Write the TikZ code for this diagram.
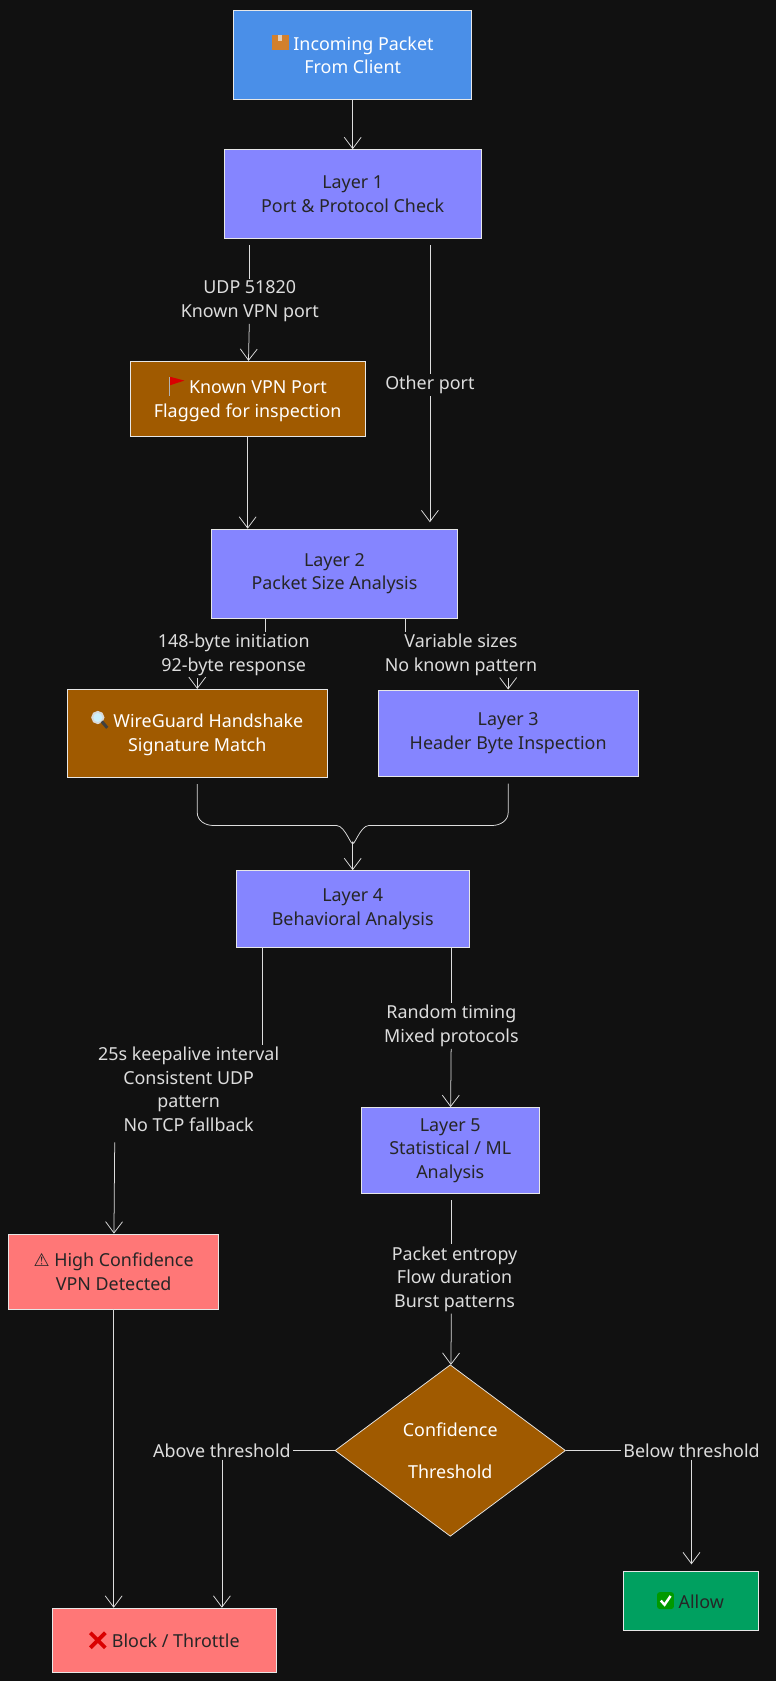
\documentclass[tikz,border=0pt]{standalone}
\usepackage{fontspec}
\setmainfont{Noto Sans}
\newfontfamily\symb{DejaVu Sans}
\usetikzlibrary{shapes.geometric, arrows.meta, positioning, calc}
\definecolor{bg}{HTML}{111111}
\definecolor{edge}{HTML}{DDDDDD}
\definecolor{inblue}{HTML}{4A8FE8}
\definecolor{layer}{HTML}{8585FF}
\definecolor{flagc}{HTML}{A05A00}
\definecolor{alert}{HTML}{FF7777}
\definecolor{okc}{HTML}{00A060}
% small icons for the emoji that no font here has
\newcommand{\pkgicon}{\tikz[x=1pt,y=1pt,baseline=0pt]{\fill[brown!70!orange] (0,0) rectangle (9,8); \fill[brown!40!white] (3.5,5) rectangle (5.5,8);}}
\newcommand{\flagicon}{\tikz[x=1pt,y=1pt,baseline=0pt]{\draw[gray!60, line width=0.8pt] (1,-1) -- (1,9); \fill[red!85!black] (1.4,9) -- (9,7) -- (1.4,4.5) -- cycle;}}
\newcommand{\lensicon}{\tikz[x=1pt,y=1pt,baseline=0pt]{\draw[gray!30, line width=1pt, fill=cyan!20] (3.5,5.5) circle (3); \draw[gray!50!black, line width=1.6pt] (5.6,3.4) -- (8.5,0);}}
\newcommand{\crossicon}{\tikz[x=1pt,y=1pt,baseline=0pt]{\draw[red!85!black, line width=2pt] (0.5,0) -- (8.5,8) (0.5,8) -- (8.5,0);}}
\newcommand{\checkicon}{\tikz[x=1pt,y=1pt,baseline=0pt]{\fill[green!60!black, rounded corners=1.5pt] (0,-0.5) rectangle (9,8.5); \draw[white, line width=1.3pt] (2,4) -- (4,1.8) -- (7.2,6.5);}}
\begin{document}
\begin{tikzpicture}[
    x=0.02cm, y=-0.02cm,
    font=\fontsize{9.5}{12.5}\selectfont,
    box/.style={rectangle, draw=edge!70, thin, align=center, inner sep=0pt},
    layerbox/.style={box, fill=layer, text=black!85},
    flagbox/.style={box, fill=flagc, text=white},
    alertbox/.style={box, fill=alert, text=black!85},
    lab/.style={fill=bg, text=edge, align=center, inner sep=1pt},
    arrow/.style={-{Straight Barb[length=6pt,width=9pt]}, edge, thin},
    line/.style={edge, thin}
]
    \fill[bg] (0,0) rectangle (724,1568);
    \useasboundingbox (0,0) rectangle (724,1568);

    \node[box, fill=inblue, text=white!90, minimum width=222*0.02cm, minimum height=83*0.02cm] (in) at (329,51) {\pkgicon\ Incoming Packet\\From Client};
    \node[layerbox, minimum width=240*0.02cm, minimum height=83*0.02cm] (l1) at (329,181) {Layer 1\\Port \& Protocol Check};
    \node[flagbox, minimum width=219*0.02cm, minimum height=70*0.02cm] (flag) at (231,372) {\flagicon\ Known VPN Port\\Flagged for inspection};
    \node[layerbox, minimum width=229*0.02cm, minimum height=83*0.02cm] (l2) at (312,535) {Layer 2\\Packet Size Analysis};
    \node[flagbox, minimum width=242*0.02cm, minimum height=82*0.02cm] (wg) at (184,684) {\lensicon\ WireGuard Handshake\\Signature Match};
    \node[layerbox, minimum width=242*0.02cm, minimum height=81*0.02cm] (l3) at (474,684) {Layer 3\\Header Byte Inspection};
    \node[layerbox, minimum width=217*0.02cm, minimum height=72*0.02cm] (l4) at (329,848) {Layer 4\\Behavioral Analysis};
    \node[layerbox, minimum width=166*0.02cm, minimum height=80*0.02cm] (l5) at (420,1073) {Layer 5\\Statistical / ML\\Analysis};
    \node[alertbox, minimum width=196*0.02cm, minimum height=70*0.02cm] (high) at (106,1186) {{\symb ⚠} High Confidence\\VPN Detected};
    \node[diamond, draw=edge!70, fill=flagc, text=white, minimum width=215*0.02cm, minimum height=160*0.02cm, inner sep=0pt, align=center] (dia) at (420,1353) {Confidence\\[10pt]Threshold};
    \node[alertbox, minimum width=209*0.02cm, minimum height=60*0.02cm] (block) at (153,1530) {\crossicon\ Block / Throttle};
    \node[box, fill=okc, text=black!85, minimum width=126*0.02cm, minimum height=55*0.02cm] (allow) at (644,1493) {\checkicon\ Allow};

    % edge labels
    \node[lab] (udp) at (233,281) {UDP 51820\\Known VPN port};
    \node[lab] (other) at (401,359) {Other port};
    \node[lab] (sig) at (218,611) {148-byte initiation\\92-byte response};
    \node[lab] (var) at (430,611) {Variable sizes\\No known pattern};
    \node[lab] (keep) at (176,1016) {25s keepalive interval\\Consistent UDP\\pattern\\No TCP fallback};
    \node[lab] (rand) at (421,957) {Random timing\\Mixed protocols};
    \node[lab] (stat) at (424,1193) {Packet entropy\\Flow duration\\Burst patterns};
    \node[lab] (above) at (207,1353) {Above threshold};
    \node[lab] (below) at (645,1353) {Below threshold};

    \coordinate (merge) at (329,785);

    \draw[arrow] (in) -- (l1);
    \draw[line] ($(l1.south -| udp)+(0,6)$) -- (udp);
    \draw[arrow] (udp) -- (flag);
    \draw[line] ($(l1.south -| other)+(0,6)$) -- (other);
    \draw[arrow] (other) -- ($(l2.north -| other)+(0,-6)$);
    \draw[arrow] (flag) -- (l2.north -| flag);
    \draw[line] (l2.south -| 248,0) -- (sig.north -| 248,0);
    \draw[arrow] (sig.south -| wg) -- (wg);
    \draw[line] (l2.south -| 378,0) -- (var.north -| 378,0);
    \draw[arrow] (var.south -| 474,0) -- (l3);
    \draw[line] ($(wg.south)+(0,6)$) -- (184,758) to[out=-90,in=180] (199,770) -- (314,770) to[out=0,in=-90] (merge);
    \draw[line] ($(l3.south)+(0,6)$) -- (474,758) to[out=-90,in=0] (459,770) -- (344,770) to[out=180,in=-90] (merge);
    \draw[arrow] (merge) -- (l4);
    \draw[line] (l4.south -| 245,0) -- (keep.north -| 245,0);
    \draw[arrow] ($(keep.south -| 107,0)+(0,8)$) -- (high);
    \draw[line] (l4.south -| rand) -- (rand);
    \draw[arrow] (rand) -- (l5);
    \draw[line] ($(l5.south -| 421,0)+(0,6)$) -- (stat.north -| 421,0);
    \draw[arrow] (stat.south -| 421,0) -- (dia);
    \draw[line] (dia) -- (above);
    \draw[arrow] (above) -- (block.north -| above);
    \draw[line] (dia) -- (below);
    \draw[arrow] (below) -- ($(allow.north -| below)+(0,-6)$);
    \draw[arrow] (high) -- (block.north -| high);
\end{tikzpicture}
\end{document}
